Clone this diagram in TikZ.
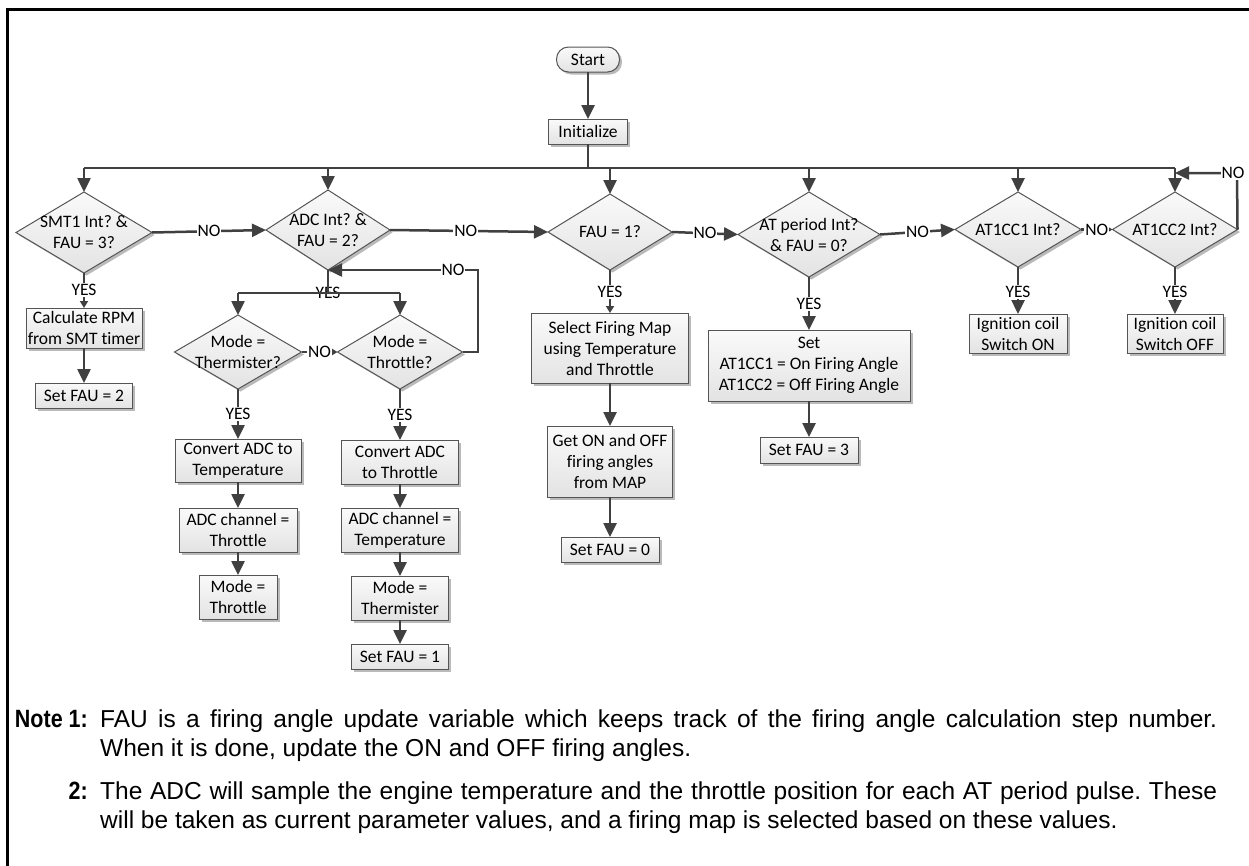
\documentclass[tikz,border=0pt]{standalone}
\usepackage{fontspec}
\setmainfont{Carlito}[Ligatures=NoCommon]
\newfontfamily\notefont{Liberation Sans}
\newfontfamily\notelabfont[FakeStretch=0.86]{Liberation Sans}
\usetikzlibrary{arrows.meta,shapes.geometric,shadows}
\definecolor{lc}{HTML}{404040}
\definecolor{bc}{HTML}{555555}
\frenchspacing
\tikzset{
  conn/.style={draw=lc, line width=2.5pt},
  arr/.style={conn, -{Triangle[length=14pt,width=13pt]}},
  sarr/.style={conn, -{Triangle[length=7pt,width=8pt]}},
  shade/.style={top color=black!2, bottom color=black!11,
    drop shadow={shadow xshift=2.5pt, shadow yshift=-2.5pt, fill=black!45, opacity=.6}},
  box/.style={rectangle, draw=bc, line width=1pt, shade, outer sep=0pt,
    font=\fontsize{17.5}{21}\selectfont, align=center, inner sep=0pt},
  dia/.style={diamond, draw=bc, line width=1pt, shade, outer sep=0pt, inner sep=0pt},
  dtext/.style={font=\fontsize{17.5}{21}\selectfont, align=center, inner sep=0pt},
  lab/.style={fill=white, inner sep=1pt, font=\fontsize{17.5}{21}\selectfont},
  labnf/.style={inner sep=1pt, font=\fontsize{17.5}{21}\selectfont},
  note/.style={font=\notefont\fontsize{24.5}{29}\selectfont\frenchspacing, inner sep=0pt},
  notelab/.style={font=\notelabfont\fontsize{25}{29}\selectfont\bfseries, inner sep=0pt},
}
\begin{document}
\begin{tikzpicture}[x=1pt,y=-1pt]
\useasboundingbox (0,0) rectangle (1249,865);
\clip (0,0) rectangle (1249,865);
% frame
\draw[line width=3pt] (7,880) -- (7,9) -- (1260,9);

% start / init
\node[box, rounded corners=12pt, minimum width=63pt, minimum height=25pt] (start) at (588,59.5) {Start};
\node[box, minimum width=79pt, minimum height=25pt] (init) at (588,131.5) {Initialize};

% bus coordinates
\coordinate (bi) at (588,168);
\coordinate (b1) at (84,168);
\coordinate (b2) at (328,168);
\coordinate (b3) at (610,168);
\coordinate (b4) at (809,168);
\coordinate (b5) at (1018,168);
\coordinate (b6) at (1175,168);

% decisions row
\node[dia, minimum width=136pt, minimum height=81pt] (dsmt) at (84,232.5) {};
\node[dtext] (tsmt) at (dsmt) {SMT1 Int? \&\\FAU = 3?};
\node[dia, minimum width=124pt, minimum height=80pt] (dadc) at (328,230) {};
\node[dtext] (tadc) at (dadc) {ADC Int? \&\\FAU = 2?};
\node[dia, minimum width=124pt, minimum height=76pt] (dfau) at (610,232) {};
\node[dtext] (tfau) at (dfau) {FAU = 1?};
\node[dia, minimum width=142pt, minimum height=85pt] (dat) at (809,234.5) {};
\node[dtext] (tat) at (dat) {AT period Int?\\\& FAU = 0?};
\node[dia, minimum width=126pt, minimum height=75pt] (dcc1) at (1018,229.5) {};
\node[dtext] (tcc1) at (dcc1) {AT1CC1 Int?};
\node[dia, minimum width=125pt, minimum height=75pt] (dcc2) at (1175,229.5) {};
\node[dtext] (tcc2) at (dcc2) {AT1CC2 Int?};

% ADC sub-decisions
\node[dia, minimum width=127pt, minimum height=74pt] (dth) at (238,352) {};
\node[dtext] (tth) at (dth) {Mode =\\Thermister?};
\node[dia, minimum width=125pt, minimum height=74pt] (dtr) at (400,352) {};
\node[dtext] (ttr) at (dtr) {Mode =\\Throttle?};

% boxes
\node[box, minimum width=116pt, minimum height=40pt] (calc) at (84,328) {Calculate RPM\\from SMT timer};
\node[box, minimum width=97pt, minimum height=25pt] (sf2) at (84,395.5) {Set FAU = 2};
\node[box, minimum width=126pt, minimum height=43pt] (conv1) at (238,460.5) {Convert ADC to\\Temperature};
\node[box, minimum width=118pt, minimum height=44pt] (ch1) at (238,530) {ADC channel =\\Throttle};
\node[box, minimum width=78pt, minimum height=44pt] (m1) at (238,597) {Mode =\\Throttle};
\node[box, minimum width=117pt, minimum height=44pt] (conv2) at (400,462) {Convert ADC\\to Throttle};
\node[box, minimum width=117pt, minimum height=44pt] (ch2) at (400,530) {ADC channel =\\Temperature};
\node[box, minimum width=97pt, minimum height=44pt] (m2) at (400,598) {Mode =\\Thermister};
\node[box, minimum width=97pt, minimum height=25pt] (sf1) at (400,656.5) {Set FAU = 1};
\node[box, minimum width=157pt, minimum height=70pt] (sel) at (610,348) {Select Firing Map\\using Temperature\\and Throttle};
\node[box, minimum width=125pt, minimum height=71pt] (get) at (610,461.5) {Get ON and OFF\\firing angles\\from MAP};
\node[box, minimum width=98pt, minimum height=25pt] (sf0) at (610,549.5) {Set FAU = 0};
\node[box, minimum width=202pt, minimum height=71pt] (setat) at (809,365.5) {Set\\AT1CC1 = On Firing Angle\\AT1CC2 = Off Firing Angle};
\node[box, minimum width=98pt, minimum height=26pt] (sf3) at (809,450) {Set FAU = 3};
\node[box, minimum width=98pt, minimum height=39pt] (ign1) at (1018,333.5) {Ignition coil\\Switch ON};
\node[box, minimum width=96pt, minimum height=39pt] (ign2) at (1175,333.5) {Ignition coil\\Switch OFF};

% ADC YES label (line passes over it)
\node[labnf] (yadc) at (328,293) {YES};

% connectors: top
\draw[arr] (start) -- (init);
\draw[conn] (init.south) -- (bi);
\draw[conn] (b1) -- (b6);
\draw[arr] (b1) -- (dsmt.north);
\draw[arr] (b2) -- (dadc.north);
\draw[arr] (b3) -- (dfau.north);
\draw[arr] (b4) -- (dat.north);
\draw[arr] (b5) -- (dcc1.north);
\draw[arr] (b6) -- (dcc2.north);

% NO chain
\draw[arr] (dsmt.east) -- node[lab] (n1) {NO} (dadc.west);
\draw[arr] (dadc.east) -- node[lab, pos=0.48] (n2) {NO} (dfau.west);
\draw[arr] (dfau.east) -- node[lab] (n3) {NO} (dat.west);
\draw[arr] (dat.east) -- node[lab] (n4) {NO} (dcc1.west);
\draw[sarr] (dcc1.east) -- node[lab] (n5) {NO} (dcc2.west);
\coordinate (c2r) at (1237,173);
\coordinate (c2l) at (1175,173);
\draw[arr] (dcc2.east) -- (c2r) -- (c2l);
\node[lab] (n6) at (1233,173) {NO};

% SMT branch
\draw[sarr] (dsmt.south) -- (calc.north);
\node[lab] (y1) at (84,290) {YES};
\draw[arr] (calc) -- (sf2);

% ADC branch
\coordinate (ya) at (328,293);
\coordinate (yl) at (238,293);
\coordinate (yr) at (400,293);
\draw[conn] (dadc.south) -- (ya);
\draw[conn] (yl) -- (yr);
\draw[arr] (yl) -- (dth.north);
\draw[arr] (yr) -- (dtr.north);
\draw[sarr] (dth.east) -- node[lab] (n7) {NO} (dtr.west);
\coordinate (lr) at (478,352);
\coordinate (lt) at (478,270);
\draw[arr] (dtr.east) -- (lr) -- (lt) -- (dadc.south);
\node[lab] (n8) at (453,270) {NO};

\draw[arr] (dth.south) -- (conv1.north);
\node[lab] (y2) at (238,414) {YES};
\draw[arr] (conv1) -- (ch1);
\draw[arr] (ch1) -- (m1);
\draw[arr] (dtr.south) -- (conv2.north);
\node[lab] (y3) at (400,415) {YES};
\draw[arr] (conv2) -- (ch2);
\draw[arr] (ch2) -- (m2);
\draw[arr] (m2) -- (sf1);

% FAU=1 branch
\draw[sarr] (dfau.south) -- (sel.north);
\node[lab] (y4) at (610,292) {YES};
\draw[arr] (sel) -- (get);
\draw[arr] (get) -- (sf0);

% AT period branch
\draw[arr] (dat.south) -- (setat.north);
\node[lab] (y5) at (809,304) {YES};
\draw[arr] (setat) -- (sf3);

% AT1CC branches
\draw[arr] (dcc1.south) -- (ign1.north);
\node[lab] (y6) at (1018,292) {YES};
\draw[arr] (dcc2.south) -- (ign2.north);
\node[lab] (y7) at (1175,292) {YES};

% notes
\node[notelab, anchor=base east] (nl1) at (88,727) {Note 1:};
\node[note, anchor=base west] (nt1) at (100,727) {\makebox[1117pt][s]{FAU is a firing angle update variable which keeps track of the firing angle calculation step number.}};
\node[note, anchor=base west] (nt2) at (100,756) {When it is done, update the ON and OFF firing angles.};
\node[notelab, anchor=base east] (nl2) at (88,799) {2:};
\node[note, anchor=base west] (nt3) at (100,799) {\makebox[1117pt][s]{The ADC will sample the engine temperature and the throttle position for each AT period pulse. These}};
\node[note, anchor=base west] (nt4) at (100,828) {will be taken as current parameter values, and a firing map is selected based on these values.};
\end{tikzpicture}
\end{document}
